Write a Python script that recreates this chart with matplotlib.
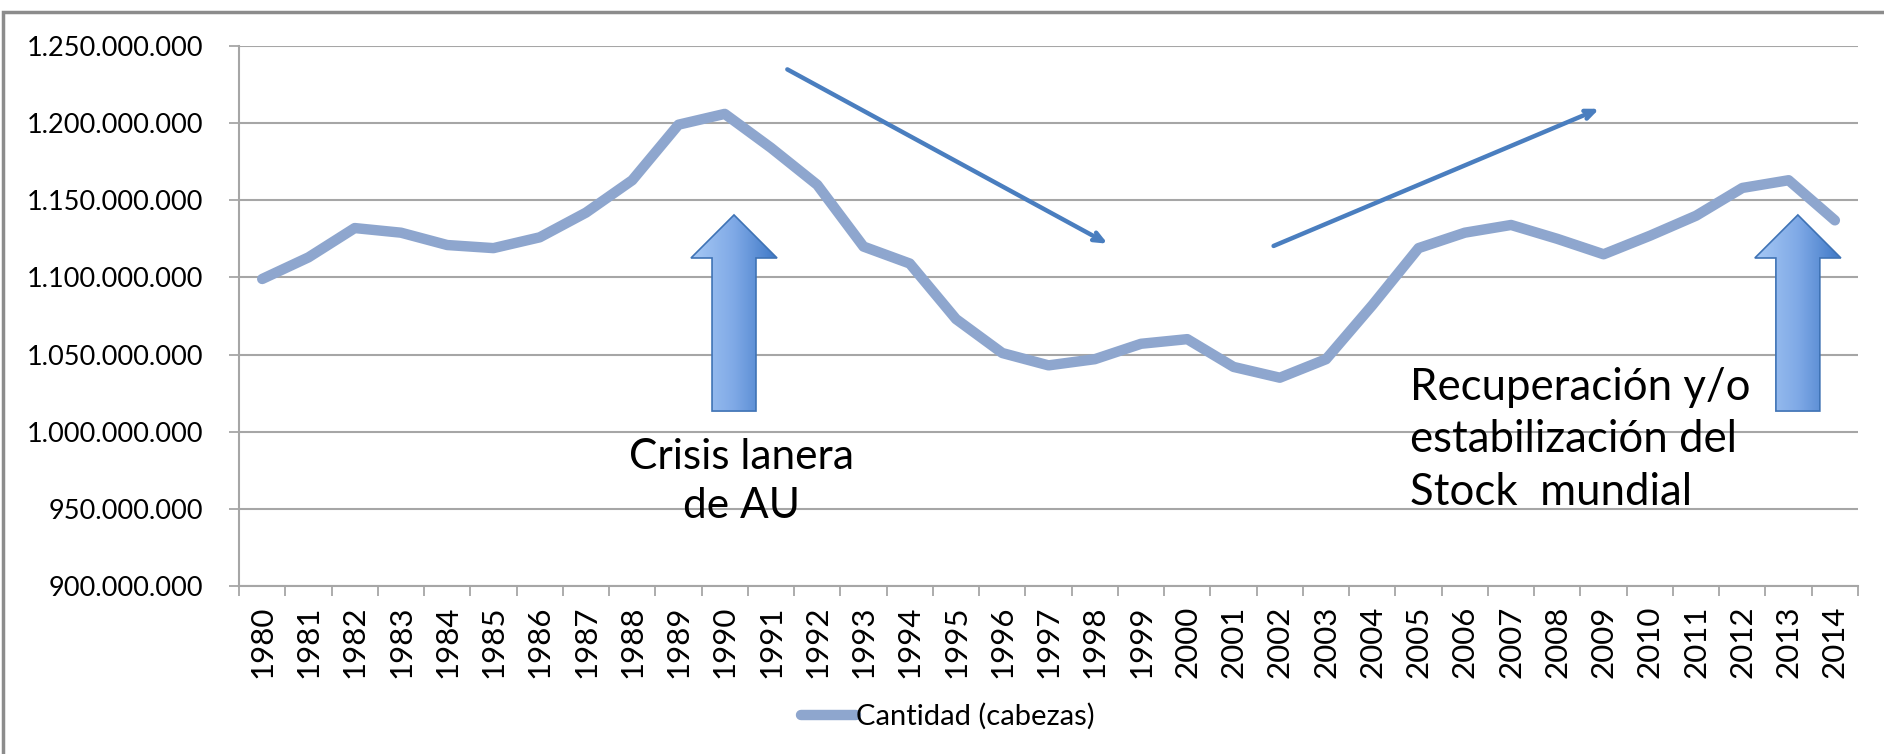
import matplotlib
matplotlib.use("Agg")
import matplotlib.pyplot as plt
import numpy as np
from matplotlib.patches import Polygon, Rectangle
from matplotlib.ticker import FuncFormatter, FixedLocator

plt.rcParams["font.family"] = ["Lato", "DejaVu Sans"]

years = [str(y) for y in range(1980, 2015)]
# world sheep stock (head), millions
stock_m = [1099, 1113, 1132, 1129, 1121, 1119, 1126, 1142, 1163, 1199,
           1206, 1184, 1160, 1120, 1109, 1073, 1051, 1043, 1047, 1057,
           1060, 1042, 1035, 1047, 1082, 1119, 1129, 1134, 1125, 1115,
           1127, 1140, 1158, 1163, 1137]
series_name = "Cantidad (cabezas)"
y_ticks = [900e6, 950e6, 1000e6, 1050e6, 1100e6, 1150e6, 1200e6, 1250e6]

LINE_C = "#8EA6CE"
GRID_C = "#A6A6A6"
ARROW_C = "#4A7EBF"

fig = plt.figure(figsize=(18.84, 7.54), dpi=100)
ax = fig.add_axes([0.1269, 0.2228, 0.8593, 0.7162])

x = np.arange(len(years))
ax.plot(x, np.array(stock_m) * 1e6, color=LINE_C, lw=7.5,
        solid_joinstyle="round", solid_capstyle="round", label=series_name, zorder=3)

ax.set_xlim(-0.5, len(years) - 0.5)
ax.set_ylim(y_ticks[0], y_ticks[-1])
ax.set_yticks(y_ticks)
ax.yaxis.set_major_formatter(FuncFormatter(lambda v, p: f"{v:,.0f}".replace(",", ".")))
ax.set_xticks(x)
ax.set_xticklabels(years, rotation=90)
ax.xaxis.set_minor_locator(FixedLocator(np.arange(-0.5, len(years), 1.0)))
ax.tick_params(axis="x", which="major", length=0, pad=14, labelsize=22.5)
ax.tick_params(axis="x", which="minor", length=7, width=1.3, color=GRID_C)
ax.tick_params(axis="y", length=7, width=1.3, color=GRID_C, pad=19, labelsize=19.5)
ax.grid(axis="y", color=GRID_C, lw=1.5, zorder=0)
for s in ["top", "right"]:
    ax.spines[s].set_visible(False)
for s in ["left", "bottom"]:
    ax.spines[s].set_color(GRID_C)
    ax.spines[s].set_linewidth(1.5)


def block_arrow(xc, y_tip, y_head, y_bot, head_hw=0.93, shaft_hw=0.475):
    pts = [(xc, y_tip), (xc + head_hw, y_head), (xc + shaft_hw, y_head),
           (xc + shaft_hw, y_bot), (xc - shaft_hw, y_bot), (xc - shaft_hw, y_head),
           (xc - head_hw, y_head)]
    poly = Polygon(pts, closed=True, facecolor="none", edgecolor="#3F73B5",
                   lw=1.2, zorder=5, clip_on=False)
    ax.add_patch(poly)
    grad = np.linspace(0, 1, 64).reshape(1, -1)
    cmap = matplotlib.colors.LinearSegmentedColormap.from_list(
        "g", ["#A6C8F5", "#7FA9E6", "#3E78C6"])
    im = ax.imshow(grad, cmap=cmap, aspect="auto", zorder=4,
                   extent=(xc - head_hw, xc + head_hw, y_bot, y_tip))
    im.set_clip_path(poly)


block_arrow(10.2, 1140.5e6, 1112.6e6, 1013.4e6)
block_arrow(33.2, 1140.5e6, 1112.6e6, 1013.4e6)
ax.set_xlim(-0.5, len(years) - 0.5)
ax.set_ylim(y_ticks[0], y_ticks[-1])

arrow_style = dict(arrowstyle="->,head_length=0.7,head_width=0.3",
                   color=ARROW_C, lw=3.2)
ax.annotate("", xy=(18.33, 1121e6), xytext=(11.3, 1235.7e6),
            arrowprops=arrow_style, zorder=6)
ax.annotate("", xy=(28.96, 1210e6), xytext=(21.81, 1119.7e6),
            arrowprops=arrow_style, zorder=6)

ax.text(10.37, 996e6, "Crisis lanera\nde AU", ha="center", va="top",
        fontsize=30.5, linespacing=1.35, zorder=7)
ax.text(24.81, 1042e6, "Recuperación y/o\nestabilización del\nStock  mundial",
        ha="left", va="top", fontsize=31.5, linespacing=1.35, zorder=7)

leg = fig.legend(loc="center", bbox_to_anchor=(0.503, 0.05), frameon=False,
                 fontsize=21, handlelength=1.9, handletextpad=0.0)

fig.add_artist(Rectangle((3 / 1884, -0.1), 1.2, 1 + 0.1 - 12 / 754,
                         transform=fig.transFigure, fill=False,
                         edgecolor="#8C8C8C", lw=2.5))

fig.savefig("out.png", dpi=100)
